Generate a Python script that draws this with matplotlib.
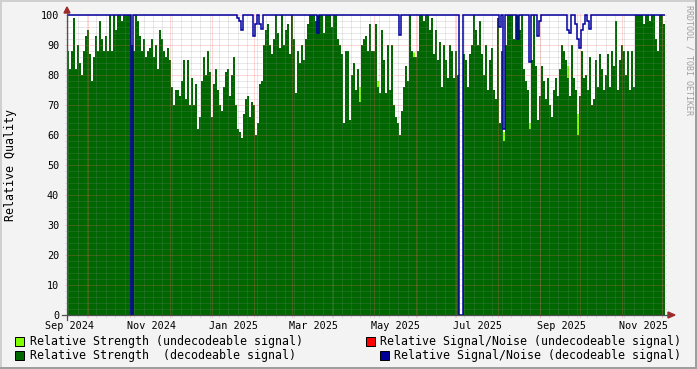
import datetime as dt
import numpy as np
import matplotlib
matplotlib.use("Agg")
import matplotlib.pyplot as plt
import matplotlib.dates as mdates
from matplotlib.patches import Rectangle, Polygon
from matplotlib.lines import Line2D

# ---------------- data ----------------
start_time = dt.datetime(2024, 9, 15, 4, 0)
end_time = dt.datetime(2025, 12, 3, 4, 0)

# Relative strength (decodeable signal), one value per ~1.5 days
strength = [
    88, 82, 88, 99, 82, 90, 84, 80, 88, 93,
    95, 87, 78, 86, 93, 88, 98, 92, 88, 93,
    88, 100, 88, 100, 95, 100, 100, 98, 100, 100,
    100, 100, 90, 88, 100, 98, 93, 88, 92, 86,
    88, 89, 92, 86, 90, 82, 95, 92, 88, 86,
    89, 85, 76, 70, 75, 75, 73, 78, 85, 72,
    85, 70, 79, 70, 77, 62, 66, 78, 86, 80,
    88, 81, 66, 77, 82, 75, 70, 68, 76, 81,
    82, 73, 80, 86, 70, 62, 61, 59, 67, 72,
    73, 66, 71, 70, 60, 64, 77, 78, 90, 95,
    97, 90, 87, 92, 100, 94, 89, 100, 90, 95,
    97, 87, 100, 92, 74, 88, 84, 90, 85, 92,
    97, 100, 100, 100, 98, 100, 100, 100, 94, 100,
    100, 100, 96, 100, 100, 92, 90, 87, 64, 88,
    88, 65, 80, 84, 75, 82, 71, 90, 92, 93,
    88, 97, 88, 88, 97, 76, 74, 95, 85, 74,
    90, 75, 90, 70, 66, 64, 60, 68, 76, 83,
    78, 100, 88, 86, 86, 88, 100, 100, 98, 100,
    100, 95, 99, 87, 95, 85, 91, 76, 90, 85,
    79, 90, 88, 79, 88, 80, 0, 0, 87, 85,
    76, 87, 90, 100, 95, 90, 98, 87, 80, 90,
    75, 85, 89, 75, 72, 99, 64, 88, 58, 90,
    100, 100, 100, 92, 100, 100, 95, 100, 82, 78,
    75, 62, 85, 100, 83, 65, 73, 83, 78, 72,
    79, 70, 66, 75, 79, 73, 82, 90, 88, 85,
    79, 73, 90, 79, 75, 60, 73, 88, 79, 80,
    75, 86, 70, 72, 85, 76, 87, 82, 75, 80,
    87, 76, 88, 83, 98, 75, 85, 90, 88, 80,
    88, 75, 88, 76, 100, 100, 100, 100, 97, 100,
    100, 98, 100, 100, 92, 88, 100, 100, 97,
]

# Relative strength (undecodeable signal): sample index -> extra height
weak_idx = [146, 155, 173, 218, 231, 250, 255]
weak_val = [5, 2, 1.5, 3, 2, 4, 7]

# Relative signal/noise (decodeable signal): 100 except at these samples
snr_level = 100
snr_dip_idx = [32, 85, 86, 87, 93, 94, 96, 97, 125, 166, 196, 197, 216, 218,
               225, 231, 235, 236, 250, 251, 254, 255, 256, 257, 258, 260, 261]
snr_dip_val = [0, 99, 98, 95, 93, 97, 97, 95.5, 94, 93.5, 0, 0, 96, 62,
               92, 84.5, 93, 98, 95, 94, 97, 92, 89, 95, 97, 98, 95.5]

y_ticks = [0, 10, 20, 30, 40, 50, 60, 70, 80, 90, 100]
x_tick_labels = ["Sep 2024", "Nov 2024", "Jan 2025", "Mar 2025",
                 "May 2025", "Jul 2025", "Sep 2025", "Nov 2025"]
legend_labels = ["Relative Strength (undecodeable signal)",
                 "Relative Signal/Noise (undecodeable signal)",
                 "Relative Strength  (decodeable signal)",
                 "Relative Signal/Noise (decodeable signal)"]
legend_colors = ["#80ff00", "#ff0000", "#006600", "#000099"]

# ---------------- figure ----------------
W, H = 697, 369
FONT = "DejaVu Sans Mono"
plt.rcParams["font.family"] = FONT

fig = plt.figure(figsize=(W / 100, H / 100), dpi=100, facecolor="#f3f3f3")

def fx(x):
    return x / W

def fy(y):
    return 1 - y / H

X0, X1, Y0, Y1 = 67, 665, 315, 15
ax = fig.add_axes([fx(X0), fy(Y0), (X1 - X0) / W, (Y0 - Y1) / H])
ax.set_facecolor("white")
for s in ax.spines.values():
    s.set_visible(False)

t0 = mdates.date2num(start_time)
t1 = mdates.date2num(end_time)
ax.set_xlim(t0, t1)
ax.set_ylim(0, 100)

n = len(strength)
edges = np.linspace(t0, t1, n + 1)
strength_arr = np.array(strength, dtype=float)
weak = np.zeros(n)
weak[weak_idx] = weak_val
snr = np.full(n, float(snr_level))
snr[snr_dip_idx] = snr_dip_val

ax.stairs(strength_arr, edges, fill=True, color="#006600", lw=0, zorder=1)
ax.stairs(strength_arr + weak, edges, baseline=strength_arr, fill=True,
          color="#80ff00", lw=0, zorder=1.1)

# grid (drawn over the data, like rrdtool)
dx = 2 / (X1 - X0) * (t1 - t0)
dy = 2 / (Y0 - Y1) * 100
minor_col = (0.55, 0.55, 0.55, 0.38)
major_col = (1.0, 0.38, 0.38, 0.5)
dash = (0, (1, 1))
for v in np.arange(0, 101, 2):
    col = major_col if v % 10 == 0 else minor_col
    ax.plot([t0 - dx, t1 + dx], [v, v], color=col, lw=0.72, ls=dash,
            clip_on=False, zorder=2)
# weekly (Mondays) minor verticals
d = start_time.date()
d = d + dt.timedelta(days=(7 - d.weekday()) % 7)
while mdates.date2num(d) < t1:
    x = mdates.date2num(d)
    ax.plot([x, x], [-dy, 100 + dy], color=minor_col, lw=0.72, ls=dash,
            clip_on=False, zorder=2)
    d += dt.timedelta(days=7)
# monthly major verticals
y_, m_ = start_time.year, start_time.month + 1
while True:
    d = dt.datetime(y_, m_, 1)
    x = mdates.date2num(d)
    if x > t1:
        break
    ax.plot([x, x], [-dy, 100 + dy], color=major_col, lw=0.72, ls=dash,
            clip_on=False, zorder=2)
    m_ += 1
    if m_ > 12:
        m_ = 1
        y_ += 1

ax.stairs(snr, edges, baseline=None, color="#0000a0", lw=1.1,
          clip_on=False, zorder=3)

# ticks / labels
ax.set_yticks(y_ticks)
ax.set_yticklabels([str(v) for v in y_ticks])
label_pos = [mdates.date2num(dt.datetime.strptime(s, "%b %Y") + dt.timedelta(days=16))
             for s in x_tick_labels]
ax.set_xticks(label_pos)
ax.set_xticklabels(x_tick_labels)
ax.tick_params(axis="y", length=0, pad=5.6, labelsize=7.3)
ax.tick_params(axis="x", length=0, pad=4.0, labelsize=7.3)

# axes lines and arrows
axis_col = "#505050"
arrow_col = "#9e2b2b"
fig.add_artist(Line2D([fx(62), fx(669)], [fy(315), fy(315)], color=axis_col, lw=0.9))
fig.add_artist(Line2D([fx(67), fx(67)], [fy(320), fy(12)], color=axis_col, lw=0.9))
fig.add_artist(Polygon([(fx(668), fy(312)), (fx(675), fy(315)), (fx(668), fy(318))],
                       closed=True, color=arrow_col, transform=fig.transFigure))
fig.add_artist(Polygon([(fx(64), fy(13)), (fx(67), fy(7)), (fx(70), fy(13))],
                       closed=True, color=arrow_col, transform=fig.transFigure))

# y label
fig.text(fx(11), fy(165), "Relative Quality", rotation=90, ha="center",
         va="center", fontsize=8.4, color="black")

# watermark
fig.text(fx(688.5), fy(5), "RRDTOOL / TOBI OETIKER", rotation=-90, ha="center",
         va="top", fontsize=6.0, color="#a0a0a0")

# legend
leg_pos = [(15, 341, 30), (366, 341, 380), (15, 355, 30), (380, 355, 394)]
for (sx, cy, tx), lab, col in zip(leg_pos, legend_labels, legend_colors):
    fig.add_artist(Rectangle((fx(sx), fy(cy + 4.5)), 8.5 / W, 8.5 / H,
                             facecolor=col, edgecolor="black", lw=0.72,
                             transform=fig.transFigure))
    fig.text(fx(tx), fy(cy), lab, ha="left", va="center", fontsize=8.4,
             color="black")

# 3D frame
fig.add_artist(Rectangle((0, fy(2)), 1, 2 / H, facecolor="#cfcfcf", lw=0,
                         transform=fig.transFigure))
fig.add_artist(Rectangle((0, 0), 2 / W, 1, facecolor="#cfcfcf", lw=0,
                         transform=fig.transFigure))
fig.add_artist(Rectangle((0, 0), 1, 2.5 / H, facecolor="#9e9e9e", lw=0,
                         transform=fig.transFigure))
fig.add_artist(Rectangle((fx(694.5), 0), 2.5 / W, 1, facecolor="#9e9e9e", lw=0,
                         transform=fig.transFigure))

fig.savefig("out.png", dpi=100, facecolor=fig.get_facecolor())
